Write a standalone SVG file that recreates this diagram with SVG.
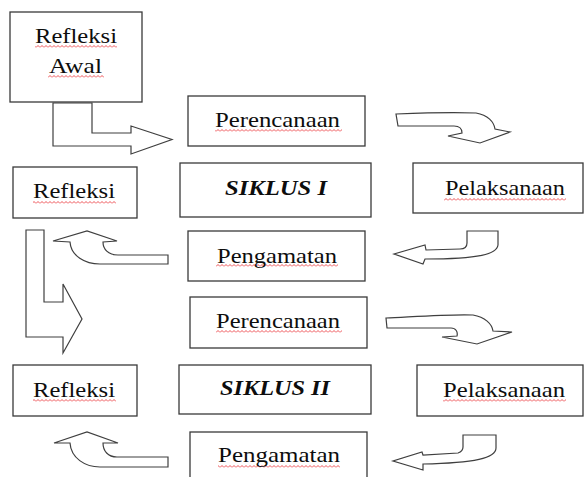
<svg xmlns="http://www.w3.org/2000/svg" width="585" height="477" viewBox="0 0 585 477">
  <style>
    .box { fill: #ffffff; stroke: #3a3a3a; stroke-width: 1.3; }
    .arrow { fill: #ffffff; stroke: #3f3f3f; stroke-width: 1.2; stroke-linejoin: miter; }
    .lbl { font-size: 22px; fill: #0d0d0d; text-anchor: middle; }
    .cyc { font-size: 22px; font-weight: bold; font-style: italic; fill: #0d0d0d; text-anchor: middle; }
    .squig { fill: url(#wave); }
  </style>
  <defs>
    <!-- spell-check squiggle -->
    <pattern id="wave" x="0" y="0" width="4" height="3" patternUnits="userSpaceOnUse">
      <path d="M0,2.5 L2,0.5 L4,2.5" fill="none" stroke="#e8262a" stroke-width="0.8"/>
    </pattern>
  </defs>

  <!-- connectors -->
  <g id="connectors">
    <path class="arrow" d="M53,103 L92,103 L92,133 L131,133 L131,126 L172,139.5 L131,154 L131,146 L53,146 Z"/>
    <path class="arrow" d="M396,114 C420,113 455,112 476,113 C488,115 494,122 495,129 L510,132 L480,143 L448,136 L462,133 C462,129 460,126 454,126 L398,126 Z"/>
    <path class="arrow" d="M467,231 L498,231 L498,245 C497,254 480,259 425,259 L423,264 L394,254 L425,245 L426,250 L460,249 C465,249 467,246 467,243 Z"/>
    <path class="arrow" d="M168,255 L168,264 L100,264 C85,264 71,256 70,242 L53,241 L87,231 L117,241 L103,242 C103,249 108,255 118,255 Z"/>
    <path class="arrow" d="M26,230 L44,230 L44,302 L63,302 L63,284 L82,319 L63,353 L63,337 L26,337 Z"/>
    <path class="arrow" d="M386,318 C410,317 450,314 473,315 C485,317 492,324 493,331 L512,332 L477,344 L442,337 L457,336 C458,332 456,328 451,328 L387,328 Z"/>
    <path class="arrow" d="M463,435 L496,435 L496,448 C496,458 475,463 423,464 L423,470 L393,461 L422,452 L423,455 L458,453 C461,452 463,450 463,447 Z"/>
    <path class="arrow" d="M168,457 L168,467 L100,467 C85,467 71,458 70,443 L54,443 L87,432 L118,443 L103,443 C103,451 108,457 117,457 Z"/>
  </g>

  <g font-family="'Liberation Serif', 'Times New Roman', Times, serif">
  <g id="refleksi-awal">
    <rect class="box" x="10" y="12" width="132" height="90"/>
    <rect class="squig" x="35" y="45" width="82" height="3"/>
    <rect class="squig" x="48" y="75" width="56" height="3"/>
    <text class="lbl" x="76" y="43" textLength="82" lengthAdjust="spacingAndGlyphs">Refleksi</text>
    <text class="lbl" x="75.5" y="73" textLength="53" lengthAdjust="spacingAndGlyphs">Awal</text>
  </g>

  <g id="perencanaan-1">
    <rect class="box" x="188" y="96" width="177" height="50"/>
    <rect class="squig" x="215" y="129" width="127" height="3"/>
    <text class="lbl" x="277.5" y="127" textLength="125" lengthAdjust="spacingAndGlyphs">Perencanaan</text>
  </g>

  <g id="siklus-1">
    <rect class="box" x="180" y="163" width="191" height="54"/>
    <text class="cyc" x="276" y="195" textLength="102" lengthAdjust="spacingAndGlyphs">SIKLUS I</text>
  </g>

  <g id="pelaksanaan-1">
    <rect class="box" x="413" y="163" width="170" height="50"/>
    <rect class="squig" x="444" y="198" width="122" height="3"/>
    <text class="lbl" x="505" y="195" textLength="120" lengthAdjust="spacingAndGlyphs">Pelaksanaan</text>
  </g>

  <g id="refleksi-1">
    <rect class="box" x="13" y="167" width="124" height="51"/>
    <rect class="squig" x="33" y="201" width="83" height="3"/>
    <text class="lbl" x="74" y="198" textLength="82" lengthAdjust="spacingAndGlyphs">Refleksi</text>
  </g>

  <g id="pengamatan-1">
    <rect class="box" x="188" y="231" width="177" height="50"/>
    <rect class="squig" x="216" y="264" width="122" height="3"/>
    <text class="lbl" x="277" y="263" textLength="120" lengthAdjust="spacingAndGlyphs">Pengamatan</text>
  </g>

  <g id="perencanaan-2">
    <rect class="box" x="190" y="297" width="177" height="51"/>
    <rect class="squig" x="216" y="330" width="126" height="3"/>
    <text class="lbl" x="278" y="328" textLength="124" lengthAdjust="spacingAndGlyphs">Perencanaan</text>
  </g>

  <g id="pelaksanaan-2">
    <rect class="box" x="417" y="365" width="166" height="51"/>
    <rect class="squig" x="443" y="399" width="123" height="3"/>
    <text class="lbl" x="504" y="397" textLength="122" lengthAdjust="spacingAndGlyphs">Pelaksanaan</text>
  </g>

  <g id="refleksi-2">
    <rect class="box" x="13" y="365" width="124" height="51"/>
    <rect class="squig" x="33" y="399" width="83" height="3"/>
    <text class="lbl" x="74" y="397" textLength="82" lengthAdjust="spacingAndGlyphs">Refleksi</text>
  </g>

  <g id="siklus-2">
    <rect class="box" x="179" y="365" width="192" height="49"/>
    <text class="cyc" x="275" y="395" textLength="110" lengthAdjust="spacingAndGlyphs">SIKLUS II</text>
  </g>

  <g id="pengamatan-2">
    <rect class="box" x="190" y="432" width="177" height="60"/>
    <rect class="squig" x="218" y="465" width="122" height="3"/>
    <text class="lbl" x="279" y="462" textLength="122" lengthAdjust="spacingAndGlyphs">Pengamatan</text>
  </g>
  </g>
</svg>
